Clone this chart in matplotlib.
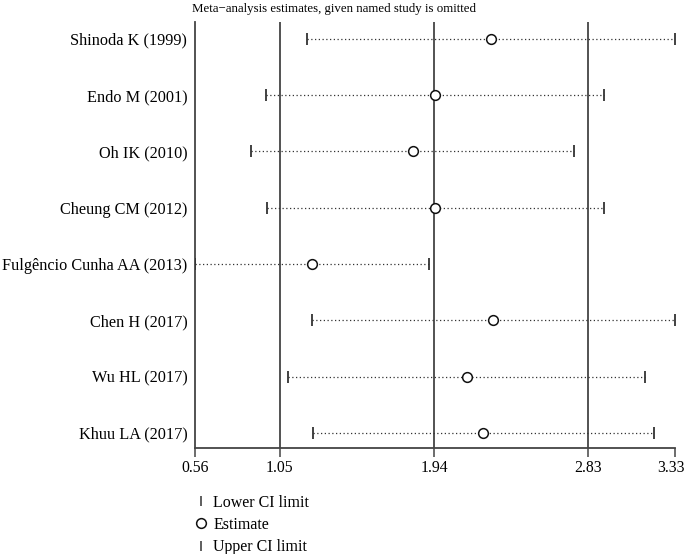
import matplotlib.pyplot as plt
import matplotlib.transforms as mtransforms
from matplotlib.lines import Line2D

studies = ['Shinoda K (1999)', 'Endo M (2001)', 'Oh IK (2010)', 'Cheung CM (2012)',
           'Fulgêncio Cunha AA (2013)', 'Chen H (2017)', 'Wu HL (2017)', 'Khuu LA (2017)']
estimate = [2.268, 1.945, 1.816, 1.947, 1.237, 2.281, 2.128, 2.224]
lower = [1.208, 0.968, 0.885, 0.974, 0.56, 1.237, 1.099, 1.243]
upper = [3.33, 2.92, 2.747, 2.922, 1.910, 3.33, 3.157, 3.21]

overall = [1.05, 1.94, 2.83]
xticks = [0.56, 1.05, 1.94, 2.83, 3.33]
xticklabels = ['0.56', '1.05', '1.94', '2.83', '3.33']

plt.rcParams['font.family'] = ['Liberation Serif', 'DejaVu Serif']

fig = plt.figure(figsize=(6.87, 5.54), dpi=100)
ax = fig.add_axes([195/687, 1 - 448/554, 480/687, 426/554])

ypos = list(range(1, len(studies) + 1))

# vertical lines: overall estimate and CI
for v in overall:
    ax.axvline(v, color='#444444', lw=1.3, zorder=1)

# dotted CI lines with end caps
for y, lo, up in zip(ypos, lower, upper):
    ax.plot([lo, up], [y, y], color='#333333', ls=(0, (1, 2)), lw=0.9, zorder=2)
ax.plot(lower, ypos, ls='none', marker='|', ms=9, mew=1.3, color='#333333', zorder=3)
ax.plot(upper, ypos, ls='none', marker='|', ms=9, mew=1.3, color='#333333', zorder=3)
ax.plot(estimate, ypos, ls='none', marker='o', ms=7, mfc='white', mec='#111111', mew=1.1, zorder=4)

ax.set_xlim(0.56, 3.33)
ax.set_ylim(8.27, 0.7)
ax.set_yticks(ypos)
ax.set_yticklabels(studies, fontsize=11.7)
ax.tick_params(axis='y', length=0, pad=5.5)
ax.set_xticks(xticks)
ax.set_xticklabels(xticklabels, fontsize=11.3)
ax.tick_params(axis='x', length=6.5, width=1.1, color='#444444', pad=2)

# last tick label sits at the figure edge, nudge it left so it is not cut
last = ax.get_xticklabels()[-1]
last.set_transform(last.get_transform() + mtransforms.ScaledTranslation(-4/100, 0, fig.dpi_scale_trans))

for s in ['top', 'right']:
    ax.spines[s].set_visible(False)
for s in ['left', 'bottom']:
    ax.spines[s].set_color('#444444')
    ax.spines[s].set_linewidth(1.3)

fig.text(334/687, 1 - 9/554, 'Meta\u2212analysis estimates, given named study is omitted',
         ha='center', va='center', fontsize=9.3)

handles = [Line2D([], [], ls='none', marker='|', ms=7, mew=1.1, color='#333333'),
           Line2D([], [], ls='none', marker='o', ms=7, mfc='white', mec='#111111', mew=1.1),
           Line2D([], [], ls='none', marker='|', ms=7, mew=1.1, color='#333333')]
fig.legend(handles, ['Lower CI limit', 'Estimate', 'Upper CI limit'],
           loc='upper left', bbox_to_anchor=(195/687, 1 - 495/554), frameon=False,
           fontsize=11.5, handlelength=0.8, handletextpad=0.35, labelspacing=0.38,
           borderaxespad=0, borderpad=0)

fig.savefig('out.png', dpi=100)
